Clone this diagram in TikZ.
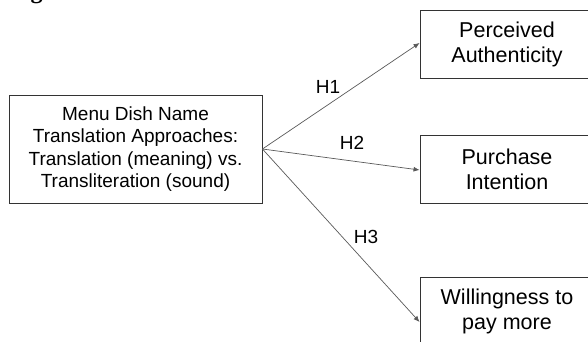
\documentclass[tikz,border=0pt]{standalone}
\usepackage{fontspec}
\setmainfont{Liberation Sans}
\newfontfamily\capfont{Liberation Serif}
\usetikzlibrary{arrows.meta}
\begin{document}
\begin{tikzpicture}[x=1pt,y=-1pt,
  srcbox/.style={draw=black!80,line width=0.9pt,minimum width=253pt,minimum height=108pt,
    align=center,font=\fontsize{19}{22.5}\selectfont,inner sep=0pt},
  outbox/.style={draw=black!80,line width=0.9pt,minimum width=174pt,minimum height=68pt,
    align=center,font=\fontsize{21.5}{25}\selectfont,inner sep=0pt},
  link/.style={draw=black!65,line width=0.7pt,-{Latex[length=6pt,width=5pt]}},
  hyp/.style={font=\fontsize{19}{22}\selectfont,inner sep=0pt}]
\useasboundingbox (0,0) rectangle (588,342);
\clip (0,0) rectangle (588,342);
% caption above the model, cut off at the top edge
\node[anchor=base west,inner sep=0pt,font=\capfont\bfseries\fontsize{24}{28}\selectfont] (cap) at (9,-1) {Figure 1.};
% boxes
\node[srcbox] (src) at (135.5,149) {Menu Dish Name\\Translation Approaches:\\Translation (meaning) vs.\\Transliteration (sound)};
\node[outbox] (pa) at (507,44) {Perceived\\Authenticity};
\node[outbox] (pi) at (507,169) {Purchase\\Intention};
\node[outbox] (wp) at (507,311) {Willingness to\\pay more};
% hypothesised paths
\draw[link] (src.east) -- ([yshift=1pt]pa.west);
\draw[link] (src.east) -- ([yshift=-1pt]pi.west);
\draw[link] (src.east) -- ([yshift=-11pt]wp.west);
% path labels
\node[hyp] (h1) at (328,87) {H1};
\node[hyp] (h2) at (352,143) {H2};
\node[hyp] (h3) at (366,237) {H3};
\end{tikzpicture}
\end{document}
